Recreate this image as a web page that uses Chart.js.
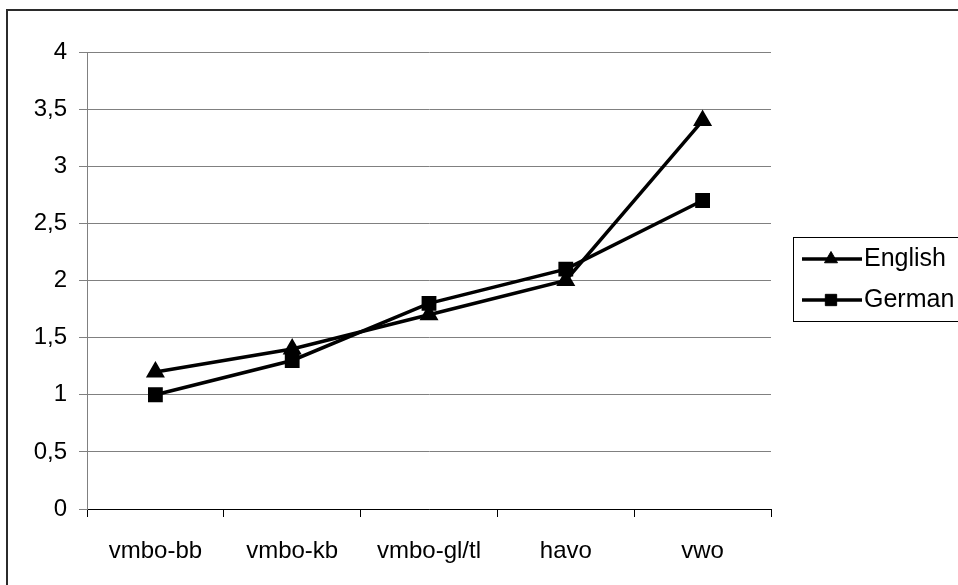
<!DOCTYPE html>
<html>
<head>
<meta charset="utf-8">
<script src="https://cdn.jsdelivr.net/npm/chart.js@4/dist/chart.umd.min.js"></script>
<style>
  html, body { margin: 0; padding: 0; background: #fff; }
  canvas { display: block; }
</style>
</head>
<body>
<canvas id="c" width="958" height="585"></canvas>
<script>
// School tracks on the x axis
const categories = ['vmbo-bb', 'vmbo-kb', 'vmbo-gl/tl', 'havo', 'vwo'];
// Mean scores per track
const english = [1.2, 1.4, 1.7, 2.0, 3.4];
const german = [1.0, 1.3, 1.8, 2.1, 2.7];
// Value-axis labels (decimal comma)
const yTickLabels = ['0', '0,5', '1', '1,5', '2', '2,5', '3', '3,5', '4'];

const FONT = 'Arial, "Liberation Sans", sans-serif';

// Frame around the whole figure and the boxed legend on the right
const frameAndLegend = {
  id: 'frameAndLegend',
  beforeDraw(chart) {
    const ctx = chart.ctx;
    ctx.save();
    ctx.fillStyle = '#fff';
    ctx.fillRect(0, 0, chart.width, chart.height);
    ctx.restore();
  },
  afterDraw(chart) {
    const ctx = chart.ctx;
    ctx.save();
    ctx.strokeStyle = '#2b2b2b';
    ctx.lineWidth = 2;
    ctx.strokeRect(7, 10, 1000, 1000);

    ctx.strokeStyle = '#000';
    ctx.lineWidth = 1;
    ctx.strokeRect(793.5, 237.5, 200, 84);

    const rows = [259, 300];
    chart.data.datasets.forEach((ds, i) => {
      const y = rows[i];
      ctx.strokeStyle = ds.borderColor;
      ctx.lineWidth = ds.borderWidth;
      ctx.beginPath();
      ctx.moveTo(802, y);
      ctx.lineTo(862, y);
      ctx.stroke();
      ctx.fillStyle = ds.pointBackgroundColor;
      ctx.strokeStyle = ds.pointBorderColor;
      ctx.lineWidth = 1;
      Chart.helpers.drawPoint(ctx, {
        pointStyle: ds.pointStyle,
        radius: ds.pointRadius,
        borderWidth: 1,
        rotation: 0
      }, 831, y);
      ctx.fillStyle = '#000';
      ctx.font = '25px ' + FONT;
      ctx.textBaseline = 'middle';
      ctx.textAlign = 'left';
      ctx.fillText(ds.label, 864, y);
    });
    ctx.restore();
  }
};

new Chart(document.getElementById('c'), {
  type: 'line',
  data: {
    labels: categories,
    datasets: [
      {
        label: 'English',
        data: english,
        borderColor: '#000',
        borderWidth: 3.5,
        pointStyle: 'triangle',
        pointRadius: 7.5,
        pointBackgroundColor: '#000',
        pointBorderColor: '#000',
        backgroundColor: '#000',
        tension: 0
      },
      {
        label: 'German',
        data: german,
        borderColor: '#000',
        borderWidth: 3.5,
        pointStyle: 'rect',
        pointRadius: 8,
        pointBackgroundColor: '#000',
        pointBorderColor: '#000',
        backgroundColor: '#000',
        tension: 0
      }
    ]
  },
  options: {
    responsive: false,
    devicePixelRatio: 1,
    animation: false,
    layout: { padding: { left: 0, top: 52, right: 187, bottom: 0 } },
    plugins: {
      legend: { display: false },
      tooltip: { enabled: false }
    },
    scales: {
      x: {
        offset: true,
        grid: {
          offset: true,
          drawOnChartArea: false,
          drawTicks: true,
          tickLength: 8,
          color: '#000'
        },
        border: { color: '#000', width: 1 },
        ticks: {
          color: '#000',
          font: { family: FONT, size: 24 },
          padding: 20,
          maxRotation: 0
        },
        afterFit(scale) { scale.height = 76; }
      },
      y: {
        min: 0,
        max: 4,
        grid: {
          color: '#808080',
          lineWidth: 1,
          tickLength: 8
        },
        border: { color: '#808080', width: 1 },
        ticks: {
          stepSize: 0.5,
          color: '#000',
          font: { family: FONT, size: 24 },
          padding: 12,
          callback: (v, i) => yTickLabels[i]
        },
        afterFit(scale) { scale.width = 87; }
      }
    }
  },
  plugins: [frameAndLegend]
});
</script>
</body>
</html>
